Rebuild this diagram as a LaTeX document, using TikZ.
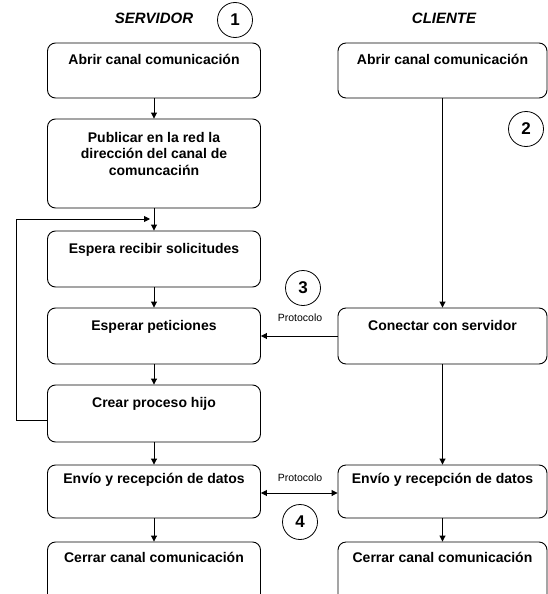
\documentclass[tikz,border=0pt]{standalone}
\usepackage{fontspec}
\setmainfont{Liberation Sans}
\usetikzlibrary{arrows.meta}
\begin{document}
\begin{tikzpicture}[x=1pt,y=-1pt,
  box/.style={draw, rounded corners=8pt, line width=0.9pt, minimum width=213pt, inner sep=0pt},
  rbox/.style={box, minimum width=209pt},
  txt/.style={font=\fontsize{14}{16.5}\selectfont\bfseries, inner sep=0pt, anchor=base},
  head/.style={font=\fontsize{15}{15}\selectfont\bfseries\itshape, inner sep=0pt},
  lbl/.style={font=\fontsize{10.5}{12}\selectfont, inner sep=0pt},
  num/.style={draw, circle, minimum size=35pt, inner sep=0pt, line width=0.8pt,
              font=\fontsize{17}{17}\selectfont\bfseries},
  flow/.style={line width=0.9pt, -{Triangle[length=6pt,width=6pt]}},
  link/.style={line width=0.9pt}]
\useasboundingbox (0,0) rectangle (548,594);
\clip (0,0) rectangle (548,594);

% column headings
\node[head] (hs) at (154,18) {SERVIDOR};
\node[head] (hc) at (444,18) {CLIENTE};

% server column
\node[box, minimum height=55pt] (s1) at (154,70.5) {};
\node[box, minimum height=89pt] (s2) at (154,163.5) {};
\node[box, minimum height=56pt] (s3) at (154,259) {};
\node[box, minimum height=56pt] (s4) at (154,336) {};
\node[box, minimum height=57pt] (s5) at (154,413.5) {};
\node[box, minimum height=53pt] (s6) at (154,491.5) {};
\node[box, minimum height=68pt] (s7) at (154,576) {};

\node[txt] (ts1) at (154,65) {Abrir canal comunicación};
\node[txt, anchor=north, align=center] (ts2) at (154,132)
  {Publicar en la red la\\dirección del canal de\\comuncacińn};
\node[txt] (ts3) at (154,253) {Espera recibir solicitudes};
\node[txt] (ts4) at (154,330) {Esperar peticiones};
\node[txt] (ts5) at (154,407) {Crear proceso hijo};
\node[txt] (ts6) at (154,483) {Envío y recepción de datos};
\node[txt] (ts7) at (154,562) {Cerrar canal comunicación};

% client column
\node[rbox, minimum height=55pt] (c1) at (442.5,70.5) {};
\node[rbox, minimum height=56pt] (c2) at (442.5,336) {};
\node[rbox, minimum height=53pt] (c3) at (442.5,491.5) {};
\node[rbox, minimum height=68pt] (c4) at (442.5,576) {};

\node[txt] (tc1) at (442.5,65) {Abrir canal comunicación};
\node[txt] (tc2) at (442.5,330) {Conectar con servidor};
\node[txt] (tc3) at (442.5,483) {Envío y recepción de datos};
\node[txt] (tc4) at (442.5,562) {Cerrar canal comunicación};

% step markers
\node[num] (n1) at (235,20) {1};
\node[num] (n2) at (526,129) {2};
\node[num] (n3) at (303,288) {3};
\node[num] (n4) at (300,522) {4};
\node[lbl] (p1) at (300,318) {Protocolo};
\node[lbl] (p2) at (300,478) {Protocolo};

% server flow
\draw[flow] (s1) -- (s2);
\draw[flow] (s2) -- (s3);
\draw[flow] (s3) -- (s4);
\draw[flow] (s4) -- (s5);
\draw[flow] (s5) -- (s6);
\draw[flow] (s6) -- (s7);

% loop back from child process creation
\coordinate (lstart) at ([yshift=-6.5pt]s5.west);
\coordinate (lend) at (150,219);
\draw[flow] (lstart) -- (16,420) -- (16,219) -- (lend);

% client flow
\draw[flow] (c1) -- (c2);
\draw[flow] (c2) -- (c3);
\draw[flow] (c3) -- (c4);

% protocol exchanges
\draw[flow] (c2.west) -- (s4.east);
\draw[link, {Triangle[length=6pt,width=6pt]}-{Triangle[length=6pt,width=6pt]}]
  ([yshift=-1.5pt]s6.east) -- ([yshift=-1.5pt]c3.west);
\end{tikzpicture}
\end{document}
